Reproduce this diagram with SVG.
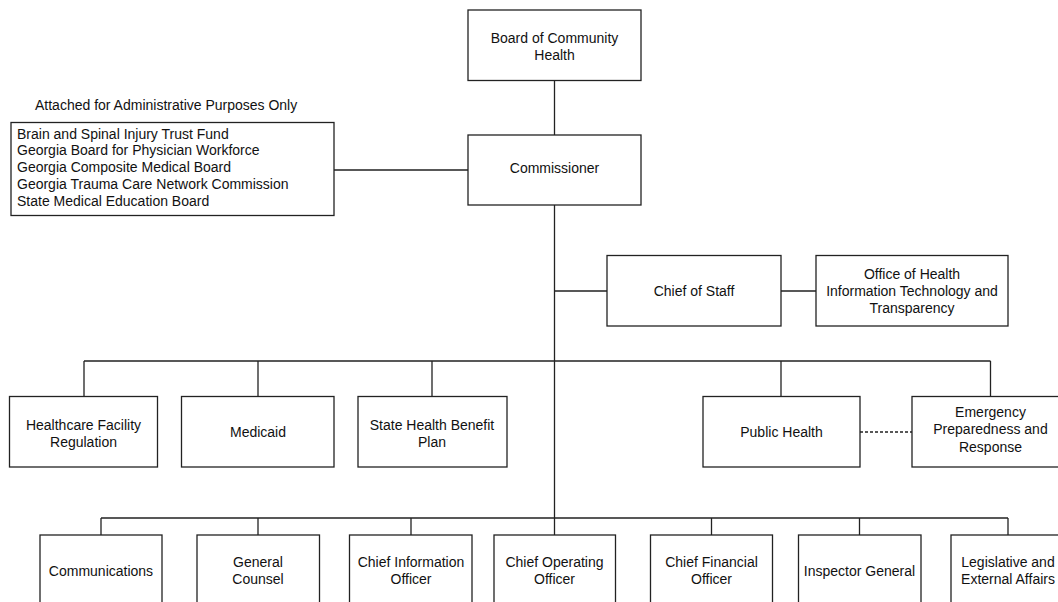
<svg xmlns="http://www.w3.org/2000/svg" width="1058" height="602" viewBox="0 0 1058 602">
<style>
rect{fill:#fff;stroke:#222;stroke-width:1.3}
text{font-family:"Liberation Sans",Arial,sans-serif;font-size:14px;fill:#111;text-anchor:middle}
.l{text-anchor:start}
.c{fill:none;stroke:#222;stroke-width:1.3}
.d{stroke-dasharray:3,2}
</style>
<rect width="1058" height="602" style="fill:#fff;stroke:none"/>
<g id="connectors">
<path class="c" d="M554.5 80V135M554.5 205V535M334 170H468M554.5 291H607M781 291H816M84 361H990.5M84 361V396.5M258 361V396.5M432 361V396.5M781 361V396.5M990.5 361V396.5M101 518H1008M101 518V535M258 518V535M411 518V535M711.5 518V535M859.5 518V535M1008 518V535"/>
<path class="c d" d="M860 432H912"/>
</g>
<g id="board"><rect x="468" y="10" width="173" height="70.5"/><text x="554.5" y="43">Board of Community</text><text x="554.5" y="59.5">Health</text></g>
<g id="commissioner"><rect x="468" y="135" width="173" height="70"/><text x="554.5" y="173">Commissioner</text></g>
<g id="attached">
<text class="l" x="35" y="110">Attached for Administrative Purposes Only</text>
<rect x="11" y="122.5" width="323" height="93"/>
<text class="l" x="17" y="138.5">Brain and Spinal Injury Trust Fund</text>
<text class="l" x="17" y="155">Georgia Board for Physician Workforce</text>
<text class="l" x="17" y="172">Georgia Composite Medical Board</text>
<text class="l" x="17" y="189">Georgia Trauma Care Network Commission</text>
<text class="l" x="17" y="206">State Medical Education Board</text>
</g>
<g id="chief-of-staff"><rect x="607" y="255.5" width="174" height="70.5"/><text x="694" y="296">Chief of Staff</text></g>
<g id="ohitt"><rect x="816" y="255.5" width="192" height="70.5"/><text x="912" y="279">Office of Health</text><text x="912" y="296">Information Technology and</text><text x="912" y="312.5">Transparency</text></g>
<g id="hfr"><rect x="9.5" y="396.5" width="148" height="70.5"/><text x="83.5" y="429.5">Healthcare Facility</text><text x="83.5" y="446.5">Regulation</text></g>
<g id="medicaid"><rect x="181.5" y="396.5" width="152.5" height="70.5"/><text x="258" y="437">Medicaid</text></g>
<g id="shbp"><rect x="358" y="396.5" width="149" height="70.5"/><text x="432" y="429.5">State Health Benefit</text><text x="432" y="446.5">Plan</text></g>
<g id="public-health"><rect x="703" y="396.5" width="157" height="70.5"/><text x="781.5" y="437">Public Health</text></g>
<g id="emergency"><rect x="912" y="396.5" width="157" height="70.5"/><text x="990.5" y="417">Emergency</text><text x="990.5" y="434">Preparedness and</text><text x="990.5" y="451.5">Response</text></g>
<g id="communications"><rect x="40" y="535" width="122" height="72"/><text x="101" y="575.5">Communications</text></g>
<g id="general-counsel"><rect x="197" y="535" width="122.5" height="72"/><text x="258" y="566.5">General</text><text x="258" y="583.5">Counsel</text></g>
<g id="cio"><rect x="349.5" y="535" width="122.5" height="72"/><text x="411" y="566.5">Chief Information</text><text x="411" y="583.5">Officer</text></g>
<g id="coo"><rect x="494" y="535" width="121.5" height="72"/><text x="554.5" y="566.5">Chief Operating</text><text x="554.5" y="583.5">Officer</text></g>
<g id="cfo"><rect x="650.5" y="535" width="122" height="72"/><text x="711.5" y="566.5">Chief Financial</text><text x="711.5" y="583.5">Officer</text></g>
<g id="inspector-general"><rect x="798.5" y="535" width="122.5" height="72"/><text x="859.5" y="575.5">Inspector General</text></g>
<g id="legislative"><rect x="951" y="535" width="122" height="72"/><text x="1008" y="566.5">Legislative and</text><text x="1008" y="583.5">External Affairs</text></g>
</svg>
